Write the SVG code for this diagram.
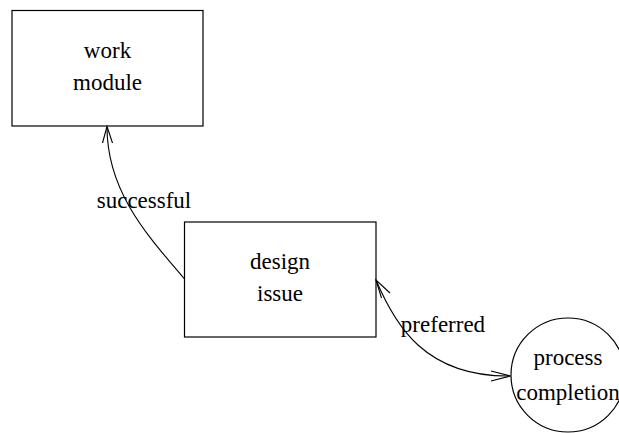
<svg xmlns="http://www.w3.org/2000/svg" width="619" height="433" viewBox="0 0 619 433">
<style>
.n{fill:#fff;stroke:#000;stroke-width:1.2}
.t{font-family:'Liberation Serif','Times New Roman',serif;font-size:23px;fill:#000;text-anchor:middle}
.e{fill:none;stroke:#000;stroke-width:1.1}
</style>
<rect width="619" height="433" fill="#fff"/>
<g id="work-module">
<rect class="n" x="12" y="10.5" width="191" height="115.5"/>
<text class="t" x="107.5" y="57.5">work</text>
<text class="t" x="107.5" y="89.5">module</text>
</g>
<g id="design-issue">
<rect class="n" x="184.5" y="222" width="191.5" height="115"/>
<text class="t" x="280" y="268.5">design</text>
<text class="t" x="280" y="301">issue</text>
</g>
<g id="process-completion">
<circle class="n" cx="568" cy="375" r="57"/>
<text class="t" x="568" y="365">process</text>
<text class="t" x="568" y="400">completion</text>
</g>
<g id="connectors">
<path class="e" d="M184.5,279 C148,236 107,192 107,127"/>
<path class="e" d="M102.5,143 L107,126.5 L112.5,143"/>
<text class="t" x="144" y="208">successful</text>
<path class="e" d="M376,280 C395,325 425,377 510,376"/>
<path class="e" d="M381.5,298 L376,280 L390,293"/>
<path class="e" d="M491,371 L510.5,376 L491,381"/>
<text class="t" x="443" y="332">preferred</text>
</g>
</svg>
